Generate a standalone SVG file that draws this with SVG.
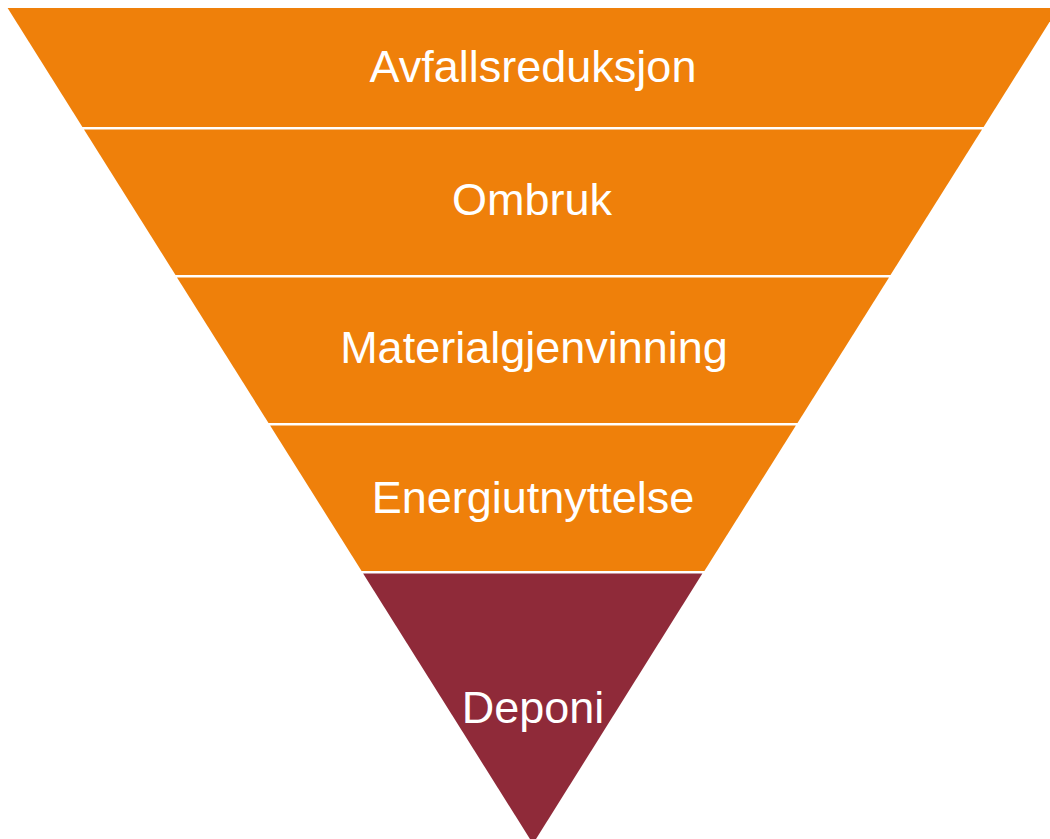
<svg xmlns="http://www.w3.org/2000/svg" width="1050" height="839" viewBox="0 0 1050 839">
<style>
.orange{fill:#EF800A}
.red{fill:#8F2A39}
.lbl{font-family:"Liberation Sans",Arial,sans-serif;font-size:45px;fill:#FFFFFF;text-anchor:middle}
</style>
<rect width="1050" height="839" fill="#FFFFFF"/>
<g id="level1">
<polygon class="orange" points="7.6,8 1058.4,8 983.6,127 82.4,127"/>
<text class="lbl" x="533" y="82">Avfallsreduksjon</text>
</g>
<g id="level2">
<polygon class="orange" points="84,129.5 982,129.5 890.5,275 175.5,275"/>
<text class="lbl" x="532" y="215">Ombruk</text>
</g>
<g id="level3">
<polygon class="orange" points="177,277.5 889,277.5 797.5,423 268.5,423"/>
<text class="lbl" x="534" y="363">Materialgjenvinning</text>
</g>
<g id="level4">
<polygon class="orange" points="270.1,425.5 795.9,425.5 704.4,571 361.6,571"/>
<text class="lbl" x="533" y="513">Energiutnyttelse</text>
</g>
<g id="level5">
<polygon class="red" points="363.1,573.5 702.4,573.5 533,843.8"/>
<text class="lbl" x="533" y="723">Deponi</text>
</g>
<g id="connectors"/>
</svg>
